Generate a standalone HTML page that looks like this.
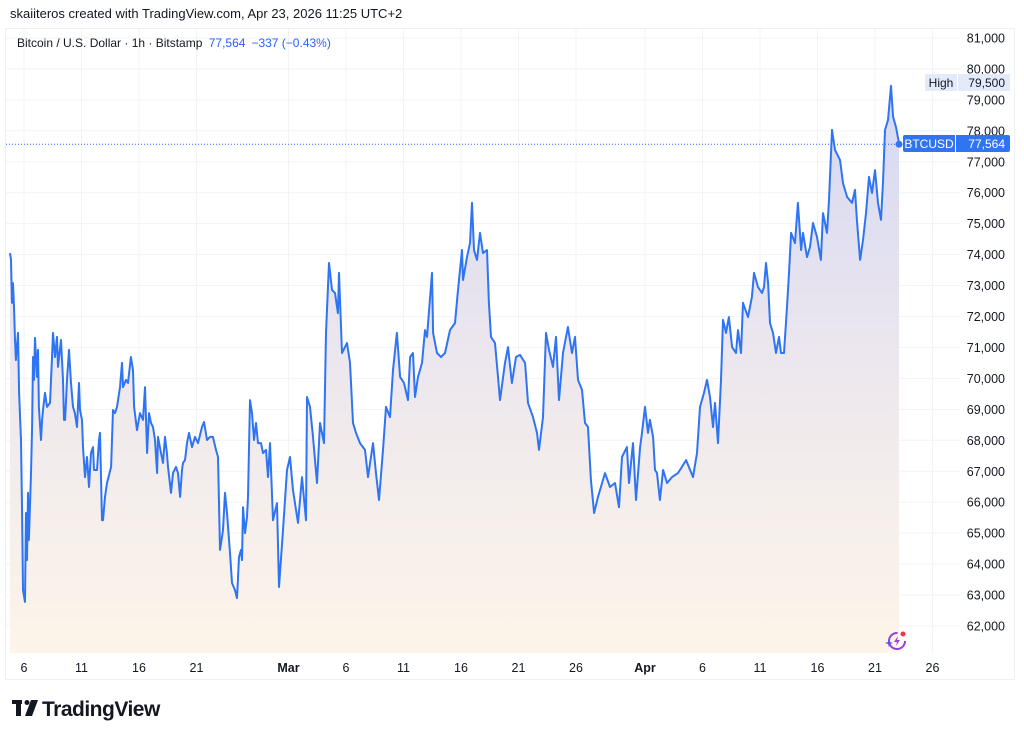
<!DOCTYPE html>
<html><head><meta charset="utf-8"><style>
html,body{margin:0;padding:0;background:#fff;width:1024px;height:737px;overflow:hidden;font-family:"Liberation Sans",Arial,sans-serif;}
svg text{font-family:"Liberation Sans",Arial,sans-serif;}
</style></head><body>
<svg id="chart" width="1024" height="737" viewBox="0 0 1024 737" xmlns="http://www.w3.org/2000/svg">
<defs>
<linearGradient id="fillg" x1="0" y1="0" x2="0" y2="1">
<stop offset="0" stop-color="#d4d8f3"/>
<stop offset="0.45" stop-color="#ebe6ee"/>
<stop offset="1" stop-color="#fdf5e9"/>
</linearGradient>
</defs>
<text x="10" y="18" font-size="13" fill="#131722">skaiiteros created with TradingView.com, Apr 23, 2026 11:25 UTC+2</text>
<rect x="5.5" y="28.5" width="1009" height="651" fill="none" stroke="#eef0f3"/>
<g id="grid"></g>
<path id="area" fill="url(#fillg)" stroke="none"/>
<line id="lastline" stroke="#2962ff" stroke-width="1" stroke-dasharray="1,2"/>
<path id="line" fill="none" stroke="#2f74f2" stroke-width="2" stroke-linejoin="round"/>
<circle id="lastdot" r="3.5" fill="#2f74f2"/>
<g id="yaxis"></g>
<g id="xaxis"></g>
<text x="17" y="47" font-size="12" fill="#131722">Bitcoin / U.S. Dollar · 1h · Bitstamp <tspan fill="#2962ff" dx="3">77,564</tspan><tspan fill="#2962ff" dx="6">−337 (−0.43%)</tspan></text>
<g>
<rect x="925" y="74" width="85" height="17" fill="#e3ebfb"/>
<line x1="957.5" y1="74" x2="957.5" y2="91" stroke="#fff"/>
<text x="941" y="87" font-size="12" fill="#131722" text-anchor="middle">High</text>
<text x="1005" y="87" font-size="12" fill="#131722" text-anchor="end">79,500</text>
</g>
<g>
<rect x="903" y="135" width="107" height="17" rx="2" fill="#2f74f2"/>
<line x1="955.5" y1="135" x2="955.5" y2="152" stroke="#fff"/>
<text x="929" y="148" font-size="12" fill="#fff" text-anchor="middle">BTCUSD</text>
<text x="1005" y="148" font-size="12" fill="#fff" text-anchor="end">77,564</text>
</g>
<g transform="translate(897,641)">
<circle r="8" fill="none" stroke="#9b3fd8" stroke-width="2" stroke-dasharray="38,12"/>
<path d="M1,-5 L-3,1 L0,1 L-1,5 L3,-1 L0,-1 Z" fill="#9b3fd8"/>
<path d="M-8,-2 L-7,1 L-4,2 L-7,3 L-8,6 L-9,3 L-12,2 L-9,1 Z" fill="#5a55e6"/>
<circle cx="6" cy="-7" r="2.5" fill="#f23645"/>
</g>
<g>
<rect x="12" y="700" width="10" height="4" fill="#131722"/>
<rect x="16" y="700" width="5" height="16" fill="#131722"/>
<circle cx="27" cy="702.5" r="2.5" fill="#131722"/>
<path d="M31,700 L38,700 L32,716 L25,716 Z" fill="#131722"/>
<text x="42" y="716" font-size="21" font-weight="bold" fill="#131722" letter-spacing="-0.5">TradingView</text>
</g>
</svg>
<script>
const days = [3.78,3.87,3.96,4.04,4.13,4.22,4.30,4.48,4.57,4.74,4.83,4.91,5.09,5.17,5.26,5.35,5.43,5.61,5.70,5.78,5.87,5.96,6.13,6.22,6.30,6.48,6.57,6.65,6.83,7.00,7.26,7.43,7.52,7.70,7.87,7.96,8.22,8.39,8.48,8.57,8.74,8.91,9.09,9.26,9.43,9.61,9.78,9.87,10.04,10.13,10.30,10.48,10.65,10.83,11.00,11.09,11.35,11.52,11.61,11.78,11.87,12.04,12.22,12.57,12.74,12.91,13.09,13.35,13.52,13.61,13.87,14.04,14.30,14.48,14.57,14.83,15.09,15.35,15.52,15.70,15.87,16.04,16.22,16.39,16.57,16.65,16.91,17.09,17.26,17.43,17.52,17.78,17.96,18.22,18.39,18.57,18.74,18.83,19.00,19.17,19.35,19.61,19.87,20.13,20.48,20.65,20.91,21.17,21.43,21.70,21.87,22.04,22.30,22.48,22.65,22.91,23.09,23.35,23.52,23.70,23.87,23.96,24.04,24.22,24.39,24.48,24.65,24.83,25.00,25.17,25.35,25.61,25.78,26.04,26.22,26.39,26.65,27.00,27.17,27.52,27.87,28.13,28.39,28.83,29.17,29.52,29.61,29.87,30.13,30.48,30.74,31.09,31.26,31.52,31.78,32.04,32.30,32.39,32.65,33.09,33.35,33.61,33.87,34.22,34.65,34.91,35.35,35.61,35.87,36.22,36.48,36.83,37.09,37.43,37.70,38.04,38.39,38.57,38.83,39.00,39.26,39.61,39.87,40.04,40.48,40.57,40.91,41.26,41.61,42.04,42.48,42.74,43.09,43.17,43.52,43.78,43.96,44.13,44.39,44.65,44.91,45.26,45.43,45.61,45.96,46.22,46.39,46.83,47.09,47.43,47.78,48.13,48.57,48.83,49.26,49.61,49.78,50.13,50.39,50.65,51.00,51.26,51.52,51.87,52.30,52.65,52.91,53.17,53.52,53.78,54.04,54.30,54.57,54.91,55.52,55.96,56.39,56.74,57.00,57.43,57.61,57.96,58.22,58.57,58.74,59.00,59.26,59.43,59.70,59.87,60.04,60.30,60.57,60.91,61.35,61.87,62.57,63.17,63.52,63.78,64.13,64.39,64.65,64.91,65.09,65.35,65.61,65.78,66.04,66.30,66.57,66.91,67.09,67.35,67.52,67.96,68.30,68.48,68.83,69.17,69.35,69.52,69.70,69.87,70.13,70.39,70.65,70.83,71.09,71.35,71.52,71.70,72.04,72.30,72.57,72.74,73.09,73.35,73.61,73.96,74.30,74.48,74.83,75.00,75.26,75.52,75.96,76.22,76.57,77.00,77.26,77.43,77.70,77.96,78.22,78.48,78.74,79.00,79.26,79.52,79.70,79.87,80.13,80.39,80.57,80.83,81.00,81.09];
const prices = [74.05,73.83,72.44,73.08,72.31,71.24,70.59,71.47,69.53,68.01,65.84,63.16,62.78,65.65,64.13,66.30,64.78,66.94,68.43,70.69,69.95,71.31,70.05,70.92,69.08,68.01,68.66,68.98,69.53,69.08,69.21,70.59,71.47,70.69,71.34,70.37,71.24,69.95,68.66,68.66,69.95,70.92,69.85,69.08,68.88,68.43,69.85,68.98,68.66,67.78,66.81,67.46,66.49,67.59,67.78,67.04,67.04,68.01,68.24,65.42,65.42,66.17,66.62,67.14,68.98,68.88,69.08,69.72,70.50,69.72,69.95,69.85,70.69,70.27,69.08,68.33,68.88,68.66,69.72,67.59,68.88,68.56,68.43,68.01,66.94,68.11,67.59,67.27,68.11,67.59,67.14,66.30,66.94,67.14,66.94,66.17,67.04,67.27,67.36,67.91,68.24,67.78,68.11,67.91,68.43,68.59,68.01,68.11,68.11,67.69,67.46,64.46,65.10,66.30,65.65,64.36,63.39,63.16,62.90,64.23,64.46,64.13,65.84,65.00,65.52,66.17,69.30,68.88,68.01,68.56,67.91,67.91,67.59,67.69,66.81,67.91,65.42,65.97,63.26,65.10,67.04,67.46,66.39,65.33,66.81,65.42,69.40,69.08,68.11,66.62,68.56,67.91,71.47,73.73,72.86,72.76,72.11,73.41,70.82,71.14,70.50,68.56,68.24,67.91,67.69,66.81,67.91,66.94,66.07,67.69,69.08,68.75,70.27,71.47,70.05,69.85,69.30,70.69,70.82,69.40,70.05,70.50,71.56,71.34,73.41,71.47,70.82,70.69,70.82,71.56,71.79,72.86,74.15,73.18,73.92,74.37,75.67,74.15,73.83,74.70,74.05,74.15,72.44,71.34,71.14,70.05,69.30,70.50,71.01,69.85,70.69,70.76,70.50,69.21,68.75,68.24,67.69,68.75,71.47,70.92,70.37,71.34,69.30,70.82,71.66,70.82,71.34,69.95,69.63,68.56,68.43,66.72,65.65,66.17,66.94,66.49,66.62,65.84,67.46,67.78,66.62,67.91,66.07,67.78,68.24,69.08,68.24,68.66,68.11,67.04,66.94,66.07,67.04,66.62,66.81,66.94,67.36,66.81,67.59,69.08,69.53,69.95,69.40,68.43,69.21,67.91,69.95,71.89,71.47,71.98,71.01,70.82,71.56,70.82,72.44,71.98,72.63,73.41,72.95,72.76,72.95,73.73,73.08,71.79,71.47,70.82,71.34,70.82,70.82,72.31,73.41,74.70,74.37,75.67,74.15,74.70,73.92,74.25,75.02,74.57,73.83,75.34,74.70,75.76,78.03,77.38,77.06,76.31,75.86,75.67,76.09,75.12,73.83,74.47,75.34,76.51,75.99,76.73,75.67,75.12,76.41,78.03,78.35,79.45,78.45,78.12,77.77,77.564];
const priceTicks = [62,63,64,65,66,67,68,69,70,71,72,73,74,75,76,77,78,79,80,81];
const dateTickDays = [5,10,15,20,28,33,38,43,48,53,59,64,69,74,79,84];
const dateTickLabels = ["6","11","16","21","Mar","6","11","16","21","26","Apr","6","11","16","21","26"];

const NS = "http://www.w3.org/2000/svg";
function xOf(d){ return 24 + (d - 5) * 11.5; }
function yOf(p){ return 626 - (p - 62) * 30.95; }
const plotBottom = 653;

const grid = document.getElementById('grid');
const yaxis = document.getElementById('yaxis');
const xaxis = document.getElementById('xaxis');
priceTicks.forEach(function(p){
  const y = yOf(p);
  const l = document.createElementNS(NS,'line');
  
  
  l.setAttribute('x1',6); l.setAttribute('x2',960);
  l.setAttribute('y1',y); l.setAttribute('y2',y);
  l.setAttribute('stroke','#f2f3f5'); l.setAttribute('stroke-width','1');
  grid.appendChild(l);
  const t = document.createElementNS(NS,'text');
  
  
  t.setAttribute('x',1005); t.setAttribute('y',y+4.5);
  t.setAttribute('text-anchor','end'); t.setAttribute('font-size','12.5');
  t.setAttribute('fill','#131722');
  t.textContent = (p*1000).toLocaleString('en-US');
  yaxis.appendChild(t);
});
dateTickDays.forEach(function(d,i){
  const x = xOf(d);
  const l = document.createElementNS(NS,'line');
  
  
  l.setAttribute('x1',x); l.setAttribute('x2',x);
  l.setAttribute('y1',29); l.setAttribute('y2',plotBottom);
  l.setAttribute('stroke','#f2f3f5'); l.setAttribute('stroke-width','1');
  grid.appendChild(l);
  const t = document.createElementNS(NS,'text');
  
  
  t.setAttribute('x',x); t.setAttribute('y',672);
  t.setAttribute('text-anchor','middle'); t.setAttribute('font-size','12.5');
  const lab = dateTickLabels[i];
  if(lab==='Mar'||lab==='Apr'){ t.setAttribute('font-weight','bold'); }
  t.setAttribute('fill','#131722');
  t.textContent = lab;
  xaxis.appendChild(t);
});

let d = '';
days.forEach(function(dy,i){ d += (i?'L':'M') + xOf(dy).toFixed(1) + ',' + yOf(prices[i]).toFixed(1); });
document.getElementById('line').setAttribute('d', d);
const lastX = xOf(days[days.length-1]), lastY = yOf(prices[prices.length-1]);
document.getElementById('area').setAttribute('d', d + 'L' + lastX.toFixed(1) + ',' + plotBottom + 'L' + xOf(days[0]).toFixed(1) + ',' + plotBottom + 'Z');
const ll = document.getElementById('lastline');
ll.setAttribute('x1',6); ll.setAttribute('x2',903); ll.setAttribute('y1',lastY); ll.setAttribute('y2',lastY);
const dot = document.getElementById('lastdot');
dot.setAttribute('cx',lastX); dot.setAttribute('cy',lastY);
</script>
</body></html>
